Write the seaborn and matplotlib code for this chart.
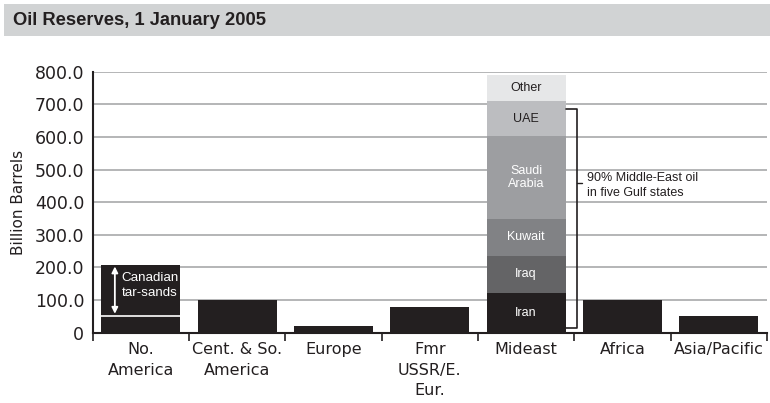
import numpy as np
import pandas as pd
import matplotlib
matplotlib.use("Agg")
import matplotlib.pyplot as plt
from matplotlib.patches import Rectangle
from matplotlib.ticker import FuncFormatter, FixedLocator
import seaborn as sns

# Proved reserves by region, billion barrels
regions = ["No.\nAmerica", "Cent. & So.\nAmerica", "Europe", "Fmr\nUSSR/E.\nEur.",
           "Mideast", "Africa", "Asia/Pacific"]
reserves = [206, 100, 21, 79, 790, 101, 52]

# North America without the Canadian tar-sands
na_conventional = 52

# Middle-East breakdown (bottom to top)
mideast_parts = ["Iran", "Iraq", "Kuwait", "Saudi\nArabia", "UAE", "Other"]
mideast_values = [123, 112, 114, 254, 106, 81]
mideast_colors = ["#231f20", "#646466", "#818285", "#9d9ea1", "#bcbdc0", "#e6e7e8"]
mideast_text = ["white", "white", "white", "white", "#231f20", "#231f20"]

y_ticks = [0, 100, 200, 300, 400, 500, 600, 700, 800]

sns.set_theme(style="white")
plt.rcParams["font.family"] = ["DejaVu Sans"]

BAR = "#231f20"
GRID = "#b4b5b7"
BAR_W = 0.82
SANS = ["Liberation Sans", "DejaVu Sans"]

fig = plt.figure(figsize=(7.70, 4.03), dpi=100)

# Title banner
fig.patches.append(Rectangle((4 / 770, 1 - 36 / 403), 1 - 4 / 770, 32 / 403,
                             transform=fig.transFigure, facecolor="#d1d3d4",
                             edgecolor="none", zorder=0))
fig.text(13 / 770, 1 - 20.5 / 403, "Oil Reserves, 1 January 2005",
         family=SANS, fontweight="bold",
         fontsize=13.2, color="#231f20", va="center", ha="left")

ax = fig.add_axes([92.7 / 770, 1 - 332.7 / 403, (767 - 92.7) / 770, (332.7 - 71.7) / 403])

df = pd.DataFrame({"region": regions, "reserves": reserves})
df.loc[df["region"] == "Mideast", "reserves"] = 0
sns.barplot(data=df, x="region", y="reserves", color=BAR, saturation=1,
            width=BAR_W, ax=ax, zorder=3, edgecolor="none")

# Middle-East stacked bar
mx = regions.index("Mideast")
bottom = 0
for name, val, col, tc in zip(mideast_parts, mideast_values, mideast_colors, mideast_text):
    ax.bar(mx, val, bottom=bottom, width=BAR_W, color=col, edgecolor="none", zorder=3)
    ax.text(mx, bottom + val / 2, name, ha="center", va="center", fontsize=9,
            family=SANS, color=tc, zorder=4, linespacing=1.2)
    bottom += val

# Canadian tar-sands marker on North America
ax.plot([-BAR_W / 2, BAR_W / 2], [na_conventional, na_conventional], color="white",
        lw=1.2, zorder=4)
ax.annotate("", xy=(-0.27, reserves[0] - 3), xytext=(-0.27, na_conventional + 6),
            arrowprops=dict(arrowstyle="<|-|>", color="white", lw=1.3,
                            mutation_scale=9, shrinkA=0, shrinkB=0), zorder=5)
ax.text(-0.2, 145, "Canadian\ntar-sands", color="white", fontsize=9.6,
        family=SANS, ha="left", va="center", linespacing=1.3, zorder=5)

# Bracket for the five Gulf states
gulf_top = sum(mideast_values[:5])
bx = mx + 0.53
ax.plot([mx + BAR_W / 2, bx, bx, mx + BAR_W / 2], [gulf_top - 24, gulf_top - 24, 13, 13],
        color="#231f20", lw=1.2, zorder=5, clip_on=False)
ax.plot([bx, bx + 0.05], [460, 460], color="#231f20", lw=1.0, zorder=5)
ax.text(bx + 0.1, 452, "90% Middle-East oil\nin five Gulf states", fontsize=9,
        family=SANS, color="#231f20", ha="left", va="center", linespacing=1.35)

# Axes styling
ax.set_xlim(-0.5, len(regions) - 0.5)
ax.set_ylim(0, 800)
ax.set_yticks(y_ticks)
ax.yaxis.set_major_formatter(FuncFormatter(lambda v, p: "0" if v == 0 else f"{v:.1f}"))
for y in y_ticks[1:]:
    ax.axhline(y, color=GRID, lw=1.4, zorder=1)
ax.tick_params(axis="y", length=0, pad=6, labelsize=12.5, labelcolor="#231f20")
ax.tick_params(axis="x", which="major", length=0, pad=7, labelsize=11.5,
               labelcolor="#231f20")
ax.xaxis.set_minor_locator(FixedLocator(np.arange(-0.5, len(regions), 1.0)))
ax.tick_params(axis="x", which="minor", length=6, width=1.2, color="#231f20",
               direction="out", bottom=True)
for lab in ax.get_xticklabels():
    lab.set_linespacing(1.45)
    lab.set_va("top")
ax.set_xlabel("")
ax.set_ylabel("Billion Barrels", fontsize=11, color="#231f20", labelpad=6)
for side in ("top", "right"):
    ax.spines[side].set_visible(False)
for side in ("left", "bottom"):
    ax.spines[side].set_color("#231f20")
    ax.spines[side].set_linewidth(1.5)
    ax.spines[side].set_zorder(6)

fig.savefig("out.png", dpi=100)
